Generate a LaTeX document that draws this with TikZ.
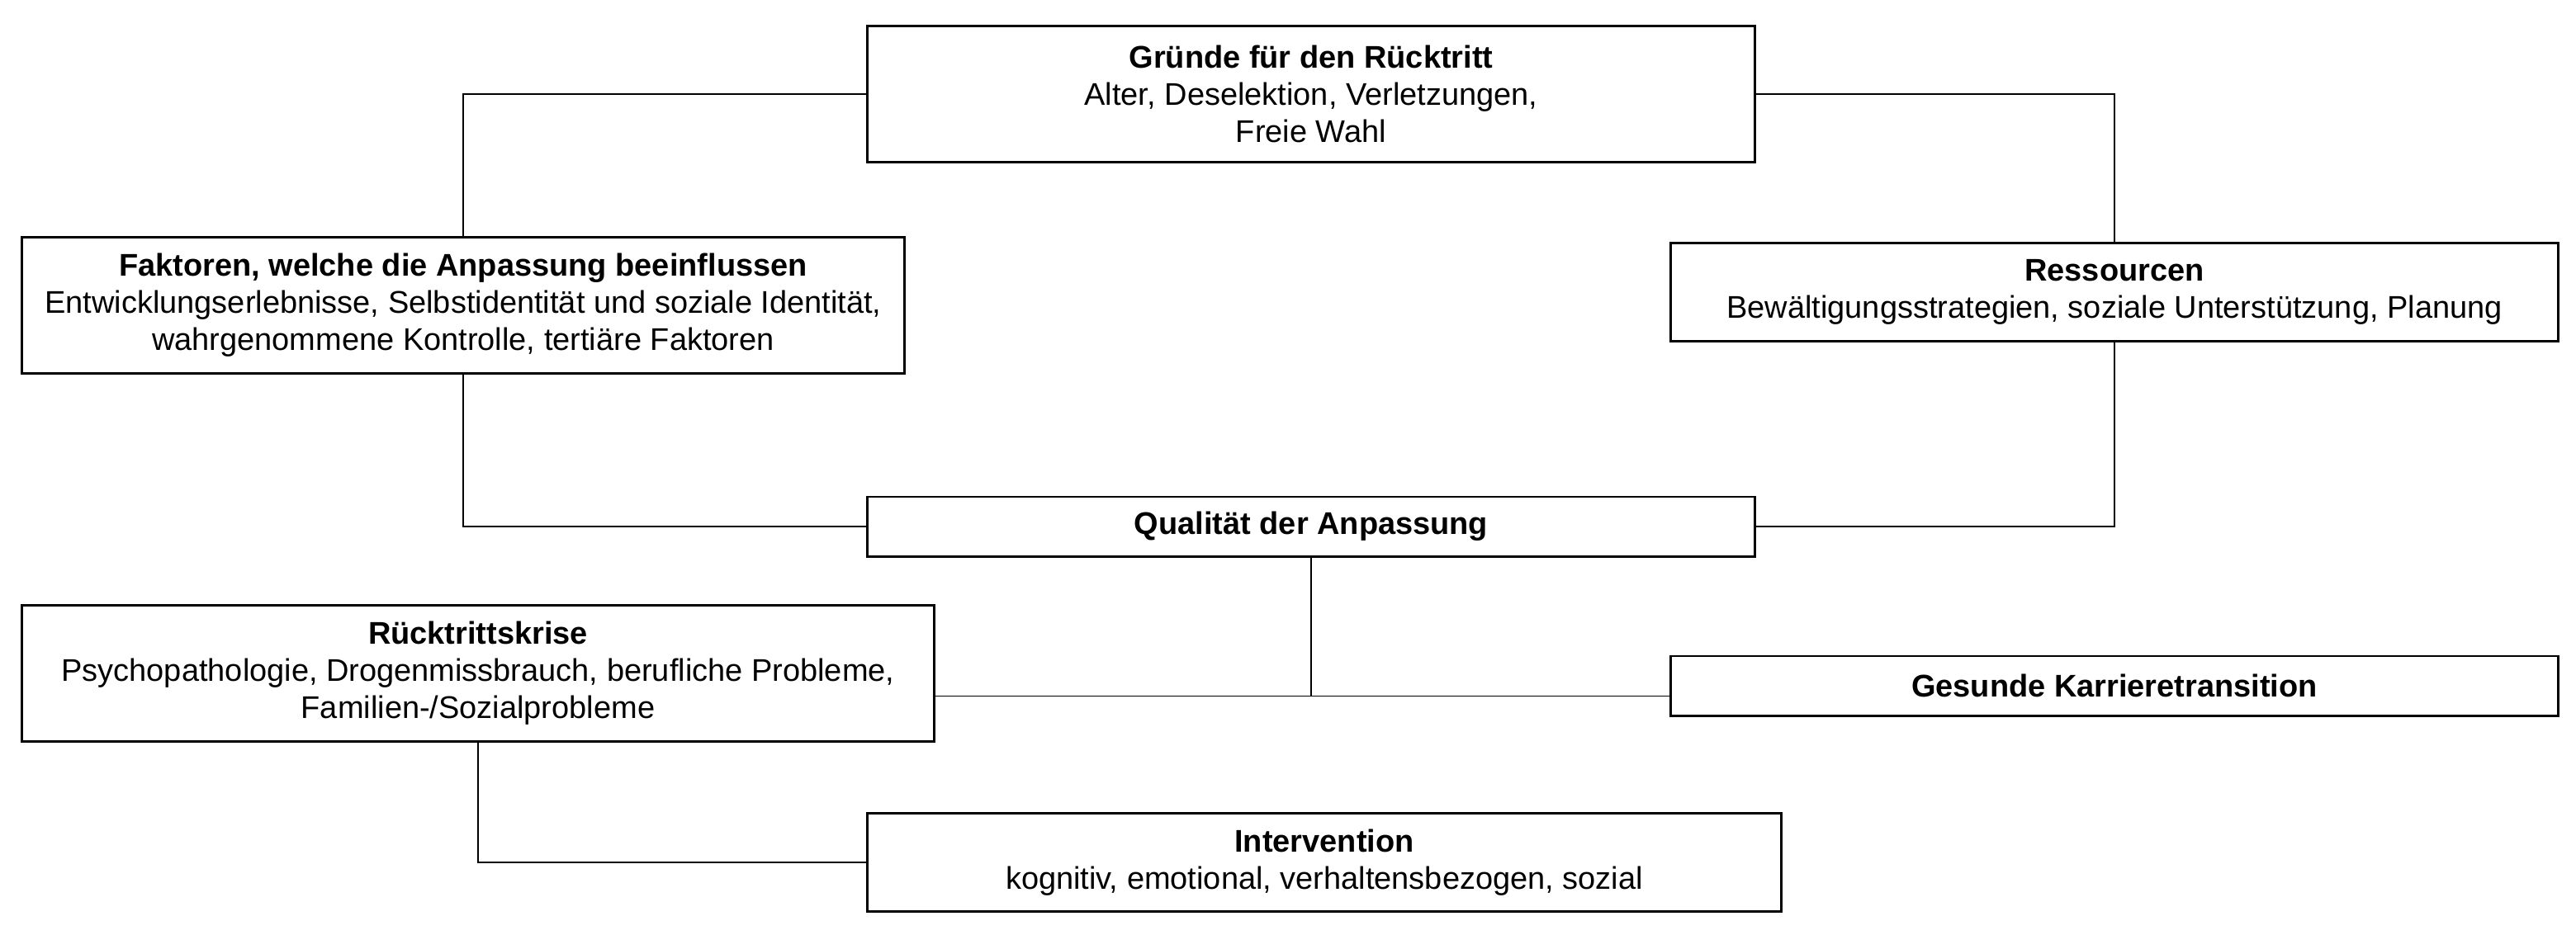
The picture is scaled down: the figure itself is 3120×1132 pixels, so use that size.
\documentclass[tikz,border=0pt]{standalone}
\usepackage{fontspec}
\setmainfont{Liberation Sans}
\usetikzlibrary{positioning,calc}
\tikzset{
  box/.style={draw=black,line width=0.85pt,fill=white,align=center,inner sep=0pt,
    font=\fontsize{10.8}{12.8}\selectfont},
  link/.style={draw=black,line width=0.5pt}
}

\begin{document}
\begin{tikzpicture}[x=0.01cm,y=-0.01cm]
  \useasboundingbox (0,0) rectangle (3120,1132);
  % boxes
  \node[box,minimum width=10.74cm,minimum height=1.64cm] (grund) at (1588,114)
    {\textbf{Gründe für den Rücktritt}\\Alter, Deselektion, Verletzungen,\\Freie Wahl};
  \node[box,minimum width=10.68cm,minimum height=1.64cm] (faktor) at (561,370)
    {\textbf{Faktoren, welche die Anpassung beeinflussen}\\Entwicklungserlebnisse, Selbstidentität und soziale Identität,\\wahrgenommene Kontrolle, tertiäre Faktoren};
  \node[box,minimum width=10.74cm,minimum height=1.18cm] (ress) at (2561,354)
    {\textbf{Ressourcen}\\Bewältigungsstrategien, soziale Unterstützung, Planung};
  \node[box,minimum width=10.74cm,minimum height=0.72cm] (qual) at (1588,638)
    {\textbf{Qualität der Anpassung}};
  \node[box,minimum width=11.05cm,minimum height=1.64cm] (krise) at (579,816)
    {\textbf{Rücktrittskrise}\\Psychopathologie, Drogenmissbrauch, berufliche Probleme,\\Familien-/Sozialprobleme};
  \node[box,minimum width=10.74cm,minimum height=0.72cm] (gesund) at (2561,831)
    {\textbf{Gesunde Karrieretransition}};
  \node[box,minimum width=11.07cm,minimum height=1.19cm] (interv) at (1604,1045)
    {\textbf{Intervention}\\kognitiv, emotional, verhaltensbezogen, sozial};
  % connectors
  \coordinate (mid) at ($(qual.south)+(0,168)$);
  \draw[link] (grund.west) -| (faktor.north);
  \draw[link] (grund.east) -| (ress.north);
  \draw[link] (faktor.south) |- (qual.west);
  \draw[link] (ress.south) |- (qual.east);
  \draw[link] (qual.south) -- (mid);
  \draw[link] (krise.east |- mid) -- (gesund.west |- mid);
  \draw[link] (krise.south) |- (interv.west);
\end{tikzpicture}
\end{document}
